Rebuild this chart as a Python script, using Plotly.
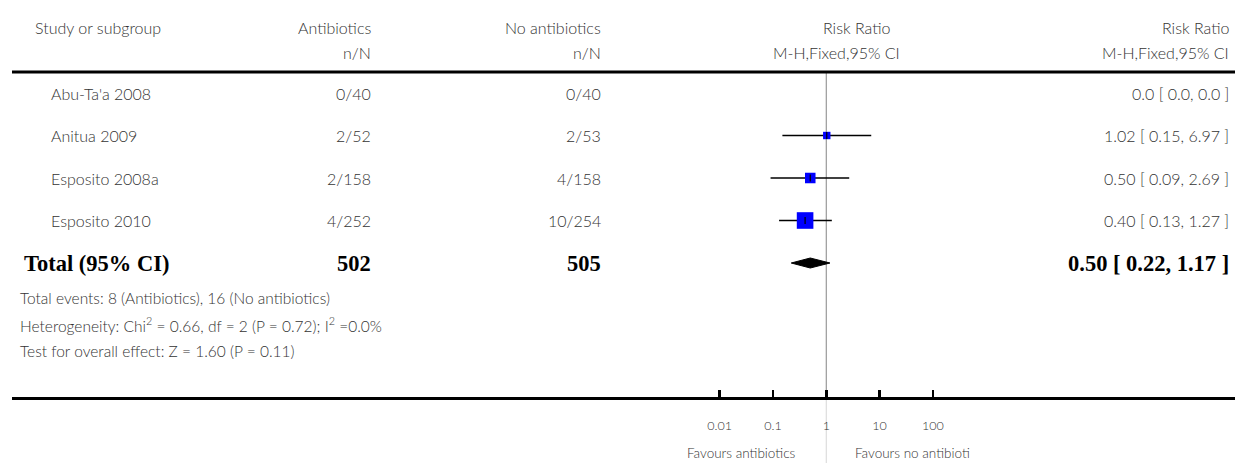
import math
import plotly.graph_objects as go

# ---------------- data ----------------
studies = ["Abu-Ta'a 2008", "Anitua 2009", "Esposito 2008a", "Esposito 2010"]
abx_events = [0, 2, 2, 4]
abx_total = [40, 52, 158, 252]
ctl_events = [0, 2, 4, 10]
ctl_total = [40, 53, 158, 254]
rr = [None, 1.02, 0.50, 0.40]
rr_lo = [None, 0.15, 0.09, 0.13]
rr_hi = [None, 6.97, 2.69, 1.27]
rr_labels = ["0.0 [ 0.0, 0.0 ]", "1.02 [ 0.15, 6.97 ]", "0.50 [ 0.09, 2.69 ]", "0.40 [ 0.13, 1.27 ]"]
total_rr, total_lo, total_hi = 0.50, 0.22, 1.17
total_label = "0.50 [ 0.22, 1.17 ]"
tick_vals = [0.01, 0.1, 1, 10, 100]
tick_text = ["0.01", "0.1", "1", "10", "100"]
left_favour = "Favours antibiotics"
right_favour = "Favours no antibioti"
stats_lines = [
    "Total events: 8 (Antibiotics), 16 (No antibiotics)",
    "Heterogeneity: Chi<sup>2</sup> = 0.66, df = 2 (P = 0.72); I<sup>2</sup> =0.0%",
    "Test for overall effect: Z = 1.60 (P = 0.11)",
]

# ---------------- layout geometry ----------------
W, H = 1235, 463
ROW0, GAP = 93.0, 42.5          # pixel y of first study row, row gap
AXIS_Y = 397.0                   # pixel y of the bottom axis line
X_ONE, DECADE = 826.3, 53.3      # pixel x of RR=1, pixels per decade
X_LEFT = 12.0


def px_x(p):
    return p / W


def row_of(p):
    return (p - ROW0) / GAP


x_range = [(X_LEFT - X_ONE) / DECADE, (W - X_ONE) / DECADE]
y_range = [row_of(AXIS_Y), row_of(0)]

SANS = "Lato, 'Open Sans', sans-serif"
SERIF = "'Liberation Serif', 'Times New Roman', serif"
TXT = "#333333"
FS = 16
LIGHT = 300

# M-H fixed weights -> square size
n = len(studies)
w = []
for i in range(n):
    N = abx_total[i] + ctl_total[i]
    w.append(ctl_events[i] * abx_total[i] / N)
wsum = sum(w)
wpct = [100 * v / wsum for v in w]

fig = go.Figure()

idx = [i for i in range(n) if rr[i] is not None]
fig.add_trace(go.Scatter(
    x=[rr[i] for i in idx], y=idx, mode="markers",
    marker=dict(symbol="square", color="#0000ff", opacity=1,
                size=[2.1 * math.sqrt(wpct[i]) for i in idx], line=dict(width=0)),
    error_x=dict(type="data", symmetric=False,
                 array=[rr_hi[i] - rr[i] for i in idx],
                 arrayminus=[rr[i] - rr_lo[i] for i in idx],
                 color="black", thickness=1.6, width=0),
    hoverinfo="skip", showlegend=False,
))
fig.add_trace(go.Scatter(
    x=[rr[i] for i in idx], y=idx, mode="markers",
    marker=dict(symbol="line-ns", size=5, line=dict(width=1.2, color="black")),
    hoverinfo="skip", showlegend=False,
))

# diamond for total
ti = n
h = 5.0 / GAP
fig.add_trace(go.Scatter(
    x=[total_lo, total_rr, total_hi, total_rr, total_lo],
    y=[ti, ti - h, ti, ti + h, ti],
    mode="lines", fill="toself", fillcolor="black",
    line=dict(color="black", width=1), hoverinfo="skip", showlegend=False,
))

ann = []


def add(text, xp, yrow, anchor, size=FS, family=SANS, color=TXT, weight=LIGHT):
    ann.append(dict(text=text, x=px_x(xp), y=yrow, xref="paper", yref="y",
                    xanchor=anchor, yanchor="middle", showarrow=False,
                    font=dict(family=family, size=size, color=color, weight=weight)))


# headers
r1, r2 = row_of(27), row_of(52)
add("Study or subgroup", 33, r1, "left")
add("Antibiotics", 373, r1, "right")
add("n/N", 373, r2, "right")
add("No antibiotics", 603, r1, "right")
add("n/N", 603, r2, "right")
add("Risk Ratio", 856, r1, "center")
add("M-H,Fixed,95% CI", 836, r2, "center")
add("Risk Ratio", 1231, r1, "right")
add("M-H,Fixed,95% CI", 1231, r2, "right")

for i in range(n):
    add(studies[i], 49, i, "left")
    add(f"{abx_events[i]}/{abx_total[i]}", 373, i, "right")
    add(f"{ctl_events[i]}/{ctl_total[i]}", 603, i, "right")
    add(rr_labels[i], 1231, i, "right")

BS = 22.5
add("<b>Total (95% CI)</b>", 22, ti, "left", size=BS, family=SERIF, color="black", weight=700)
add(f"<b>{sum(abx_total)}</b>", 373, ti, "right", size=BS, family=SERIF, color="black", weight=700)
add(f"<b>{sum(ctl_total)}</b>", 603, ti, "right", size=BS, family=SERIF, color="black", weight=700)
add(f"<b>{total_label}</b>", 1231, ti, "right", size=BS, family=SERIF, color="black", weight=700)

for s, p in zip(stats_lines, [298, 324, 351]):
    add(s, 18, row_of(p), "left", size=15.5)

# favours labels
for txt, xp, anc in [(left_favour, 798, "right"), (right_favour, 853, "left")]:
    ann.append(dict(text=txt, x=px_x(xp), y=1 - 453 / H, xref="paper", yref="paper",
                    xanchor=anc, yanchor="middle", showarrow=False,
                    font=dict(family=SANS, size=13.5, color=TXT, weight=LIGHT)))

shapes = [
    dict(type="line", xref="paper", yref="paper", x0=px_x(X_LEFT), x1=1,
         y0=1 - 72 / H, y1=1 - 72 / H, line=dict(color="black", width=3)),
    dict(type="line", xref="x", yref="paper", x0=1, x1=1,
         y0=1 - AXIS_Y / H, y1=1 - 73 / H, line=dict(color="#999999", width=1.2), layer="below"),
    dict(type="line", xref="x", yref="paper", x0=1, x1=1,
         y0=0, y1=1 - AXIS_Y / H, line=dict(color="#dddddd", width=1.2), layer="below"),
]

fig.update_layout(
    width=W, height=H, margin=dict(l=0, r=0, t=0, b=0),
    paper_bgcolor="white", plot_bgcolor="white",
    annotations=ann, shapes=shapes,
    xaxis=dict(type="log", range=x_range, domain=[X_LEFT / W, 1],
               showgrid=False, zeroline=False, showline=True, linecolor="black", linewidth=3,
               ticks="inside", ticklen=7, tickwidth=2.5, tickcolor="black",
               tickvals=tick_vals, ticktext=tick_text,
               tickfont=dict(family=SANS, size=12.5, color=TXT, weight=LIGHT),
               ticklabelstandoff=15, fixedrange=True),
    yaxis=dict(range=y_range, domain=[1 - AXIS_Y / H, 1], visible=False, fixedrange=True),
    showlegend=False,
)

fig.write_html(
    "out.html",
    config={"displayModeBar": False, "staticPlot": True},
    post_script="document.body.style.margin='0';document.body.style.padding='0';"
                "document.body.style.overflow='hidden';",
)
